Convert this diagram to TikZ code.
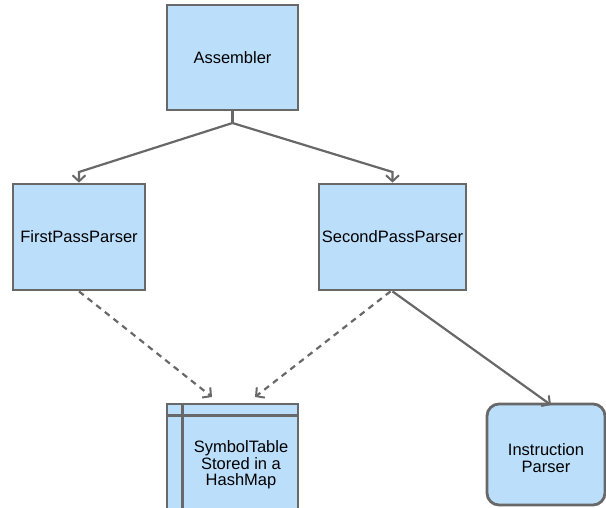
\documentclass[tikz,border=0pt]{standalone}
\usepackage{fontspec}
\setmainfont{Liberation Sans}
\usetikzlibrary{arrows.meta,calc}

\definecolor{boxfill}{RGB}{187,222,251}
\definecolor{linegray}{RGB}{104,104,104}

\tikzset{
  classbox/.style={draw=linegray, line width=2.8pt, fill=boxfill, inner sep=0pt, align=center},
  link/.style={draw=linegray, line width=2.2pt, -{Straight Barb[length=6pt,width=13pt,line width=2pt]}},
  uses/.style={link, dash pattern=on 6pt off 5pt}
}

\begin{document}
\begin{tikzpicture}[x=1pt,y=1pt,font=\fontsize{16.5}{16.5}\selectfont]
\useasboundingbox (0,0) rectangle (606,-508);
\clip (0,0) rectangle (606,-508);

% boxes
\node[classbox, minimum width=131pt, minimum height=105pt] (asm) at (232.5,-57.5) {Assembler};
\node[classbox, minimum width=132pt, minimum height=106pt] (fpp) at (79,-237) {FirstPassParser};
\node[classbox, minimum width=147pt, minimum height=106pt] (spp) at (392.5,-237) {SecondPassParser};
\node[classbox, minimum width=131pt, minimum height=130pt] (sym) at (232.5,-469) {};
\node[align=center] (symtext) at (241,-465) {SymbolTable\\Stored in a\\HashMap};
\node[classbox, rounded corners=12pt, minimum width=118pt, minimum height=101pt] (ins) at (546,-454.5) {};
\node[align=center] (instext) at (546,-458) {Instruction\\Parser};

% table lines
\draw[draw=linegray, line width=2.8pt] ([yshift=-13pt]sym.north west) -- ([yshift=-13pt]sym.north east);
\draw[draw=linegray, line width=2.8pt] ([xshift=17pt]sym.north west) -- ([xshift=17pt]sym.south west);

\coordinate (split) at (232.5,-123);
\coordinate (fppin) at (79,-172);
\coordinate (sppin) at (392.5,-172);
\coordinate (symin1) at (212,-397);
\coordinate (symin2) at (255,-397);
\coordinate (insin) at (551,-405);

% connectors
\draw[draw=linegray, line width=2.2pt] (asm.south) -- (split);
\draw[link] (split) -- (fppin) -- (fpp.north);
\draw[link] (split) -- (sppin) -- (spp.north);
\draw[uses] (fpp.south) -- (symin1);
\draw[uses] ([xshift=-2pt]spp.south) -- (symin2);
\draw[link] (spp.south) -- (insin);

\end{tikzpicture}
\end{document}
